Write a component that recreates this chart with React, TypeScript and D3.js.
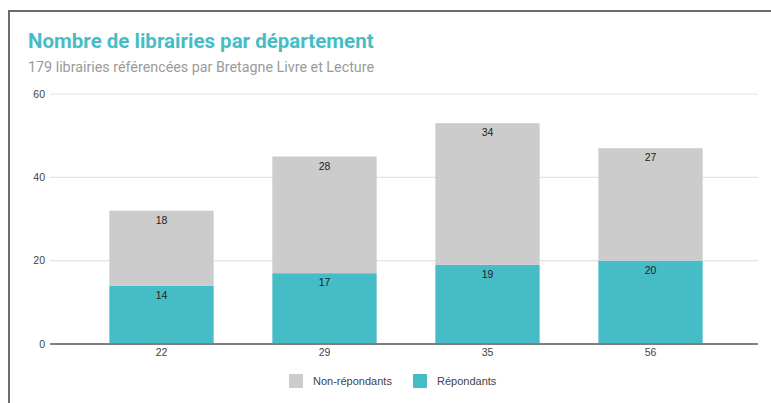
import { useMemo } from 'react';
import * as d3 from 'd3';

const departements = ['22', '29', '35', '56'];
const repondants = [14, 17, 19, 20];
const nonRepondants = [18, 28, 34, 27];
const yTicks = [0, 20, 40, 60];
const seriesNames = ['Non-répondants', 'Répondants'];

const TEAL = '#46bdc6';
const GREY = '#cccccc';

function App() {
  const width = 771;
  const height = 403;
  const plotLeft = 50;
  const plotRight = 758;
  const baseline = 344;
  const top = 94;

  const rows = departements.map((d, i) => ({
    dep: d,
    rep: repondants[i],
    non: nonRepondants[i],
  }));

  const stacked = useMemo(
    () => d3.stack<any>().keys(['rep', 'non'])(rows),
    []
  );

  const xScale = d3
    .scaleBand()
    .domain(departements)
    .range([80, 732])
    .paddingInner(0.36)
    .paddingOuter(0.18);

  const yScale = d3.scaleLinear().domain([0, 60]).range([baseline, top]);

  const colors: Record<string, string> = { rep: TEAL, non: GREY };

  return (
    <svg
      width={width}
      height={height}
      style={{ position: 'absolute', left: 0, top: 0, background: '#fff' }}
    >
      <rect x={9} y={11} width={800} height={420} fill='#fff' stroke='#6b6b6b' strokeWidth={2} />

      <text
        x={28}
        y={48}
        fill={TEAL}
        fontFamily='Roboto, sans-serif'
        fontWeight='bold'
        fontSize={20.5}
      >
        Nombre de librairies par département
      </text>
      <text x={28} y={72} fill='#9a9a9a' fontFamily='Roboto, sans-serif' fontSize={14.3}>
        179 librairies référencées par Bretagne Livre et Lecture
      </text>

      {yTicks.map((t) => (
        <g key={t}>
          <line
            x1={plotLeft}
            x2={plotRight}
            y1={yScale(t)}
            y2={yScale(t)}
            stroke={t === 0 ? '#777' : '#e3e3e3'}
            strokeWidth={t === 0 ? 1.5 : 1.2}
          />
          <text
            x={plotLeft - 5}
            y={yScale(t)}
            dy='0.35em'
            textAnchor='end'
            fill='#444'
            fontFamily='Liberation Sans, Arial, sans-serif'
            fontSize={10.5}
          >
            {t}
          </text>
        </g>
      ))}

      {stacked.map((layer) =>
        layer.map((seg, i) => {
          const x = xScale(departements[i]) as number;
          const y0 = yScale(seg[1]);
          const y1 = yScale(seg[0]);
          return (
            <g key={layer.key + i}>
              <rect x={x} y={y0} width={xScale.bandwidth()} height={y1 - y0} fill={colors[layer.key]} />
              <text
                x={x + xScale.bandwidth() / 2}
                y={y0 + 13}
                textAnchor='middle'
                fill='#222'
                fontFamily='Liberation Sans, Arial, sans-serif'
                fontSize={10.5}
              >
                {seg[1] - seg[0]}
              </text>
            </g>
          );
        })
      )}

      <line x1={plotLeft} x2={plotRight} y1={baseline} y2={baseline} stroke='#777' strokeWidth={1.5} />

      {departements.map((d) => (
        <text
          key={d}
          x={(xScale(d) as number) + xScale.bandwidth() / 2}
          y={baseline + 12}
          textAnchor='middle'
          fill='#444'
          fontFamily='Liberation Sans, Arial, sans-serif'
          fontSize={10.5}
        >
          {d}
        </text>
      ))}

      {seriesNames.map((name, i) => {
        const lx = i === 0 ? 289 : 413;
        return (
          <g key={name}>
            <rect x={lx} y={374} width={14} height={14} rx={1} fill={i === 0 ? GREY : TEAL} />
            <text
              x={lx + 24}
              y={381}
              dy='0.35em'
              fill='#444'
              fontFamily='Liberation Sans, Arial, sans-serif'
              fontSize={11}
            >
              {name}
            </text>
          </g>
        );
      })}
    </svg>
  );
}

export default App;
